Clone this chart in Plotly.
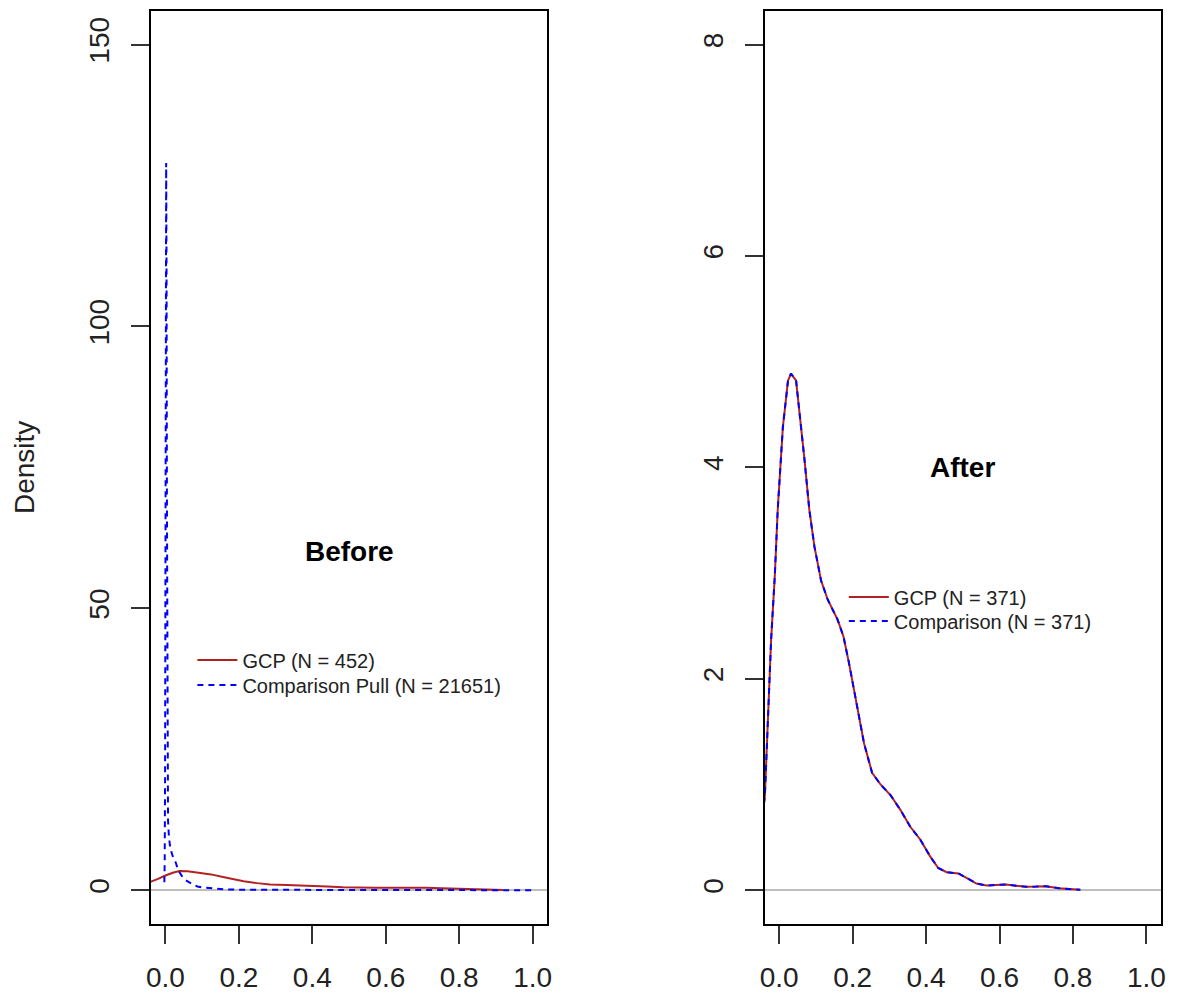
import plotly.graph_objects as go

# ---------------- data ----------------
# Left panel "Before": kernel densities
before_gcp_x = [-0.06, -0.037, -0.02, 0.0, 0.02, 0.038, 0.06, 0.09, 0.124, 0.16,
                0.213, 0.25, 0.285, 0.33, 0.393, 0.44, 0.483, 0.53, 0.571, 0.62,
                0.662, 0.71, 0.752, 0.79, 0.827, 0.87, 0.92]
before_gcp_y = [1.0, 1.5, 2.0, 2.6, 3.1, 3.4, 3.35, 3.1, 2.8, 2.3,
                1.6, 1.25, 1.0, 0.9, 0.83, 0.65, 0.53, 0.45, 0.42, 0.44,
                0.48, 0.42, 0.35, 0.3, 0.25, 0.1, 0.02]

before_pull_x = [-0.003, -0.002, -0.001, 0.0, 0.001, 0.002, 0.003, 0.004, 0.005,
                 0.006, 0.007, 0.009, 0.012, 0.016, 0.021, 0.028, 0.035, 0.045,
                 0.052, 0.07, 0.087, 0.105, 0.125, 0.16, 0.2, 0.3, 0.45, 0.6,
                 0.8, 1.0]
before_pull_y = [1.4, 5, 20, 60, 110, 129, 110, 70, 40,
                 20, 12.5, 10, 8, 6.8, 5.8, 4.9, 3.5, 2.5,
                 1.9, 1.2, 0.66, 0.45, 0.3, 0.15, 0.08, 0.04, 0.03, 0.02,
                 0.01, 0.005]

# Right panel "After": matched samples
after_x = [-0.06, -0.039, -0.022, -0.012, -0.004, 0.01, 0.024, 0.032, 0.046, 0.055,
           0.069, 0.082, 0.096, 0.114, 0.132, 0.159, 0.175, 0.19, 0.213, 0.231,
           0.253, 0.276, 0.303, 0.33, 0.357, 0.384, 0.411, 0.433, 0.456, 0.488,
           0.51, 0.537, 0.564, 0.59, 0.618, 0.645, 0.672, 0.7, 0.726, 0.762,
           0.807, 0.82]
after_gcp_y = [0.3, 0.89, 2.37, 2.97, 3.6, 4.38, 4.82, 4.886, 4.82, 4.54,
               4.07, 3.6, 3.25, 2.93, 2.75, 2.56, 2.4, 2.15, 1.74, 1.39,
               1.11, 1.0, 0.9, 0.76, 0.6, 0.48, 0.32, 0.21, 0.17, 0.158,
               0.117, 0.063, 0.044, 0.048, 0.054, 0.042, 0.032, 0.034, 0.038, 0.019,
               0.007, 0.003]
after_comp_y = [0.3, 0.89, 2.37, 2.97, 3.6, 4.38, 4.82, 4.886, 4.82, 4.54,
                4.07, 3.6, 3.25, 2.93, 2.75, 2.56, 2.4, 2.15, 1.74, 1.39,
                1.11, 1.0, 0.9, 0.76, 0.6, 0.48, 0.32, 0.21, 0.17, 0.158,
                0.117, 0.063, 0.044, 0.048, 0.054, 0.042, 0.032, 0.034, 0.038, 0.019,
                0.007, 0.003]

x_ticks = [0.0, 0.2, 0.4, 0.6, 0.8, 1.0]
x_tick_labels = ["0.0", "0.2", "0.4", "0.6", "0.8", "1.0"]
before_y_ticks = [0, 50, 100, 150]
after_y_ticks = [0, 2, 4, 6, 8]

before_names = ["GCP (N = 452)", "Comparison Pull (N = 21651)"]
after_names = ["GCP (N = 371)", "Comparison (N = 371)"]
panel_titles = ["Before", "After"]

# ---------------- styling ----------------
FONT = "Liberation Sans, Arial, sans-serif"
RED = "#B22222"
BLUE = "#0000FF"
DASH = "6px,5px"
W, H = 1179, 996

fig = go.Figure()

fig.add_trace(go.Scatter(x=before_gcp_x, y=before_gcp_y, mode="lines",
                         line=dict(color=RED, width=2), name=before_names[0],
                         xaxis="x", yaxis="y", legend="legend"))
fig.add_trace(go.Scatter(x=before_pull_x, y=before_pull_y, mode="lines",
                         line=dict(color=BLUE, width=2, dash=DASH), name=before_names[1],
                         xaxis="x", yaxis="y", legend="legend2"))
fig.add_trace(go.Scatter(x=after_x, y=after_gcp_y, mode="lines",
                         line=dict(color=RED, width=2), name=after_names[0],
                         xaxis="x2", yaxis="y2", legend="legend3"))
fig.add_trace(go.Scatter(x=after_x, y=after_comp_y, mode="lines",
                         line=dict(color=BLUE, width=2, dash=DASH), name=after_names[1],
                         xaxis="x2", yaxis="y2", legend="legend4"))

ydom = [(H - 924) / H, (H - 10.7) / H]

common_x = dict(range=[-0.04, 1.04], tickvals=x_ticks, ticktext=x_tick_labels,
                showline=True, mirror=True, linecolor="black", linewidth=1.5,
                ticks="outside", ticklen=18, tickwidth=1.5, tickcolor="#333333",
                showgrid=False, zeroline=False,
                tickfont=dict(family=FONT, size=28, color="#222222"),
                ticklabelstandoff=10)
common_y = dict(showline=True, mirror=True, linecolor="black", linewidth=1.5,
                ticks="outside", ticklen=18, tickwidth=1.5, tickcolor="#333333",
                showgrid=False, zeroline=True, zerolinecolor="#BEBEBE", zerolinewidth=1.5,
                tickangle=-90,
                tickfont=dict(family=FONT, size=28, color="#222222"),
                ticklabelstandoff=11, domain=ydom)


def legend_at(px, py):
    # px: left of the legend line sample, py: vertical centre of the row (pixels)
    return dict(x=(px - 7) / W, y=1 - py / H, xanchor="left", yanchor="middle",
                bgcolor="rgba(0,0,0,0)", borderwidth=0, itemwidth=40,
                font=dict(family=FONT, size=20, color="#222222"))


fig.update_layout(
    width=W, height=H,
    margin=dict(l=0, r=0, t=0, b=0),
    paper_bgcolor="white", plot_bgcolor="white",
    font=dict(family=FONT, color="#222222"),
    xaxis=dict(domain=[147 / W, 547 / W], anchor="y", **common_x),
    xaxis2=dict(domain=[766 / W, 1166 / W], anchor="y2", **common_x),
    yaxis=dict(anchor="x", range=[-6, 156], tickvals=before_y_ticks,
               title=dict(text="Density", font=dict(family=FONT, size=28, color="#222222"),
                          standoff=41),
               **common_y),
    yaxis2=dict(anchor="x2", range=[-0.32, 8.32], tickvals=after_y_ticks, **common_y),
    legend=legend_at(196, 660),
    legend2=legend_at(196, 685),
    legend3=legend_at(853, 597),
    legend4=legend_at(853, 621),
    showlegend=True,
    annotations=[
        dict(text="<b>" + panel_titles[0] + "</b>", x=0.5, y=60, xref="x", yref="y",
             showarrow=False, font=dict(family=FONT, size=28, color="black")),
        dict(text="<b>" + panel_titles[1] + "</b>", x=0.5, y=4, xref="x2", yref="y2",
             showarrow=False, font=dict(family=FONT, size=28, color="black")),
    ],
)

fig.write_html("out.html", config={"displayModeBar": False},
               post_script="document.body.style.margin='0';document.body.style.overflow='hidden';")
